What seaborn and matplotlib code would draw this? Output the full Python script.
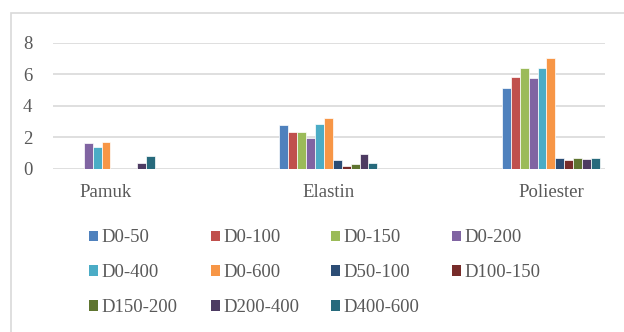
import matplotlib
matplotlib.use("Agg")
import matplotlib.pyplot as plt
import matplotlib.patches as mpatches
import seaborn as sns
import pandas as pd

categories = ["Pamuk", "Elastin", "Poliester"]
series = ["D0-50", "D0-100", "D0-150", "D0-200", "D0-400", "D0-600",
          "D50-100", "D100-150", "D150-200", "D200-400", "D400-600"]
pamuk = [0, 0, 0, 1.62, 1.38, 1.70, 0, 0, 0, 0.36, 0.81]
elastin = [2.75, 2.30, 2.32, 1.96, 2.85, 3.20, 0.54, 0.18, 0.33, 0.92, 0.35]
poliester = [5.12, 5.85, 6.42, 5.78, 6.40, 7.06, 0.67, 0.54, 0.71, 0.62, 0.71]
colors = ["#4F81BD", "#C0504D", "#9BBB59", "#8064A2", "#4BACC6", "#F79646",
          "#2C4D75", "#772C2A", "#5F7530", "#4D3B62", "#276A7C"]

rows = []
for cat, vals in zip(categories, [pamuk, elastin, poliester]):
    for s, v in zip(series, vals):
        rows.append({"cat": cat, "series": s, "value": v})
df = pd.DataFrame(rows)

sns.set_theme(style="white")
plt.rcParams["font.family"] = ["Liberation Serif", "DejaVu Serif"]
text_color = "#595959"
grid_color = "#D9D9D9"
fs = 13.5

W, H = 624, 332
fig = plt.figure(figsize=(W / 100, H / 100), dpi=100)
fig.patch.set_facecolor("white")

# chart frame
fig.add_artist(mpatches.Rectangle((11 / W, -0.1), 2, (H - 13) / H + 0.1,
                                  transform=fig.transFigure, fill=False,
                                  edgecolor=grid_color, linewidth=1.2))

left, right = 53, 605
top, bottom = 42.7, 168.7
ax = fig.add_axes([left / W, (H - bottom) / H, (right - left) / W, (bottom - top) / H])

sns.barplot(data=df, x="cat", y="value", hue="series", order=categories,
            hue_order=series, palette=colors, saturation=1, width=0.44,
            gap=0.0, edgecolor="white", linewidth=0.5, ax=ax, legend=False)

ax.set_ylim(0, 8)
ax.set_yticks([0, 2, 4, 6, 8])
ax.set_xlim(-0.238, 2.243)
ax.yaxis.grid(True, color=grid_color, linewidth=1.2)
ax.set_axisbelow(True)
for sp in ax.spines.values():
    sp.set_visible(False)
ax.set_xlabel("")
ax.set_ylabel("")
ax.tick_params(axis="both", length=0, labelsize=fs, colors=text_color)
ax.tick_params(axis="y", pad=15)
ax.tick_params(axis="x", pad=11)

# legend: 4 evenly spaced columns, filled row by row
ncol = 4
col_x = [81, 203, 323, 444]
for c in range(ncol):
    idx = list(range(c, len(series), ncol))
    handles = [mpatches.Patch(facecolor=colors[i], edgecolor="none", label=series[i])
               for i in idx]
    fig.legend(handles=handles, ncol=1, loc="upper left",
               bbox_to_anchor=(col_x[c] / W, (H - 222) / H), frameon=False,
               fontsize=fs, labelcolor=text_color, handlelength=0.5,
               handleheight=0.5, handletextpad=0.2, labelspacing=0.95,
               borderaxespad=0.0)

fig.savefig("out.png", dpi=100, facecolor="white")
